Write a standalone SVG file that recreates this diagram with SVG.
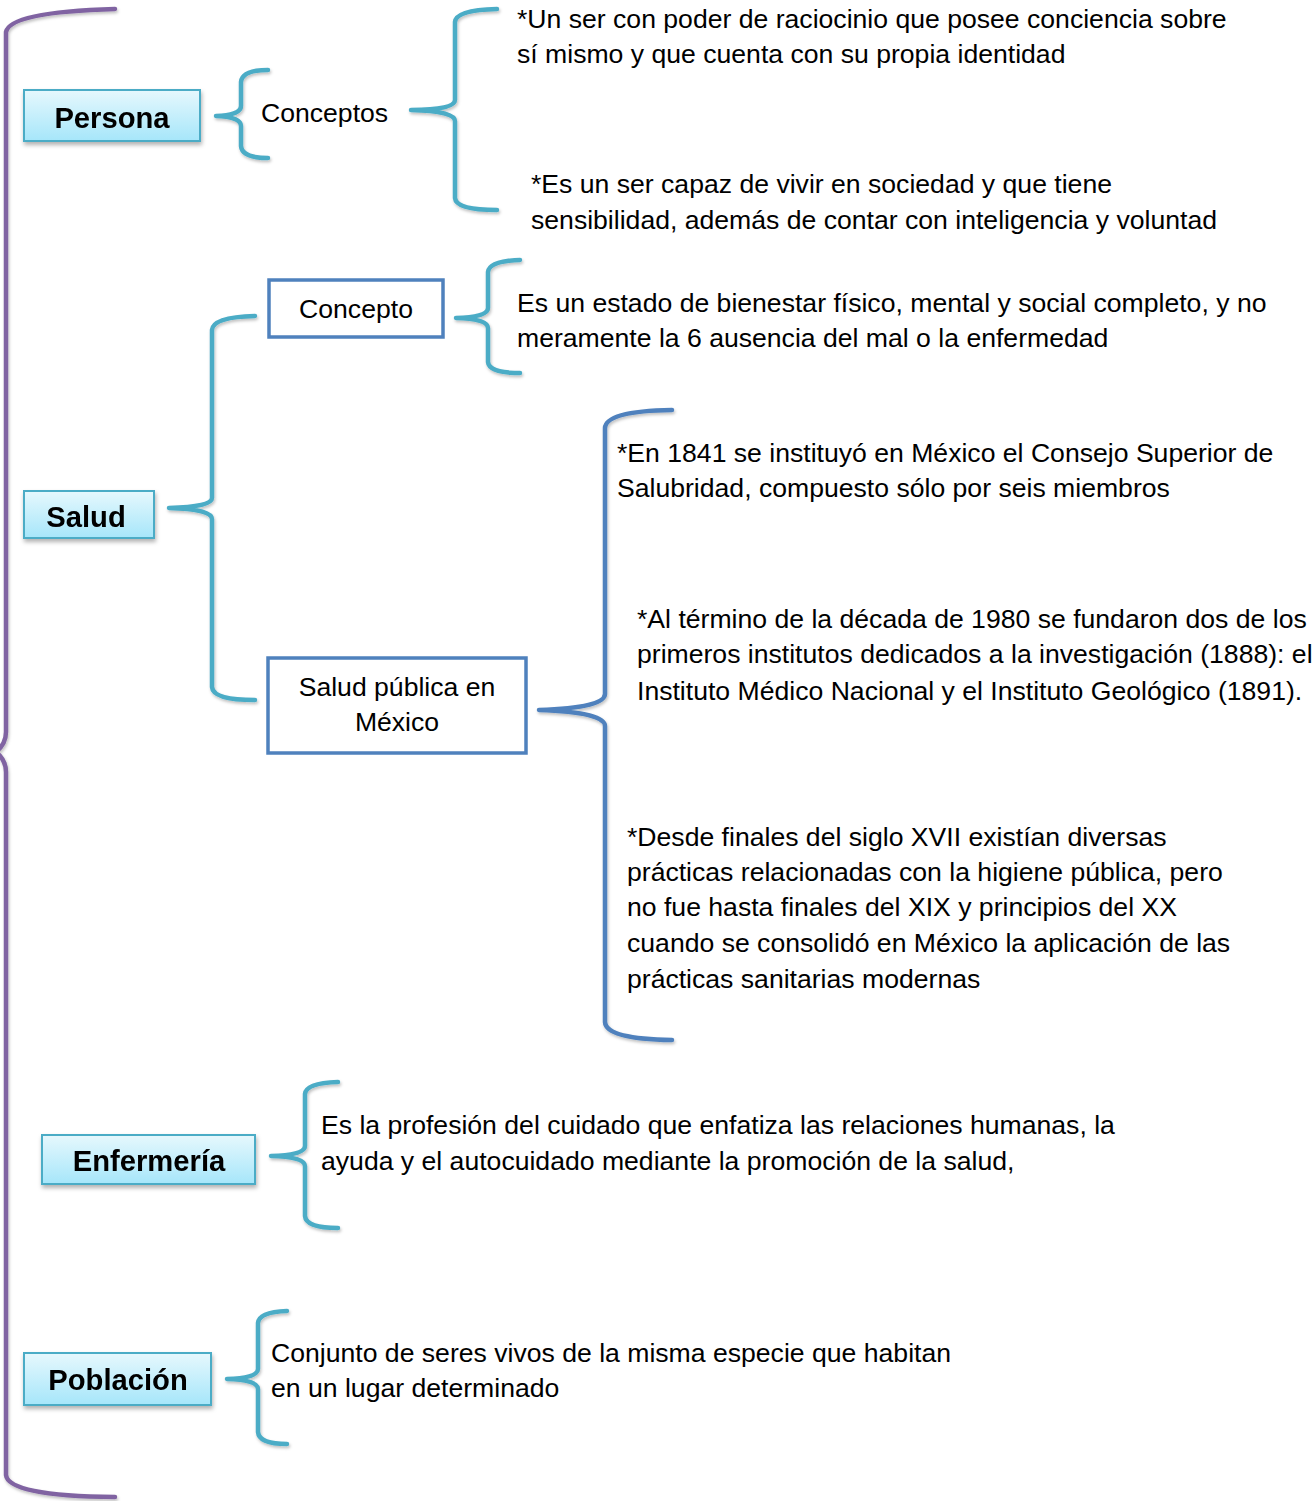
<svg xmlns="http://www.w3.org/2000/svg" width="1315" height="1501" viewBox="0 0 1315 1501">
<defs>
<linearGradient id="boxg" x1="0" y1="0" x2="0" y2="1">
<stop offset="0" stop-color="#E6F8FD"/>
<stop offset="1" stop-color="#A6E6FA"/>
</linearGradient>
<filter id="sh" x="-10%" y="-10%" width="130%" height="140%">
<feDropShadow dx="1" dy="3" stdDeviation="2" flood-color="#000" flood-opacity="0.3"/>
</filter>
<filter id="shl" x="-10%" y="-10%" width="130%" height="130%">
<feDropShadow dx="1" dy="2" stdDeviation="1.5" flood-color="#000" flood-opacity="0.25"/>
</filter>
</defs>
<style>
.t{font-family:"Liberation Sans",Arial,sans-serif;font-size:26.6px;fill:#000}
.b{font-family:"Liberation Sans",Arial,sans-serif;font-size:29.2px;font-weight:bold;fill:#000;text-anchor:middle}
.c{text-anchor:middle}
.box{fill:url(#boxg);stroke:#4BACC6;stroke-width:2}
.bbox{fill:#fff;stroke:#4F81BD;stroke-width:3.5}
.teal{fill:none;stroke:#4BACC6;stroke-width:4.5;stroke-linecap:round;stroke-linejoin:round}
.blue{fill:none;stroke:#4F81BD;stroke-width:4.5;stroke-linecap:round;stroke-linejoin:round}
.purple{fill:none;stroke:#8064A2;stroke-width:4.5;stroke-linecap:round;stroke-linejoin:round}
</style>
<rect width="1315" height="1501" fill="#fff"/>
<g id="connectors" filter="url(#shl)">
<path class="purple" d="M115,9 Q10,12 6,32 L6,732 Q6,744 -4,752 Q6,760 6,772 L6,1475 Q8,1496 115,1497"/>
<path class="teal" d="M268,70 Q242,70 241,82 L241,106 Q241,115 216,116 Q241,117 241,126 L241,146 Q242,158 268,158"/>
<path class="teal" d="M497,9 Q456,10 455,22 L455,100 Q455,110 411,110 Q455,111 455,121 L455,198 Q456,210 497,210"/>
<path class="teal" d="M255,316 Q213,317 212,330 L212,498 Q212,507 169,508 Q212,509 212,519 L212,687 Q213,700 255,700"/>
<path class="teal" d="M520,260 Q489,261 488,272 L488,308 Q488,317 456,318 Q488,319 488,328 L488,362 Q489,373 520,373"/>
<path class="blue" d="M672,410 Q606,411 605,428 L605,694 Q605,708 539,710 Q605,712 605,726 L605,1022 Q606,1039 672,1040"/>
<path class="teal" d="M338,1082 Q306,1083 305,1094 L305,1146 Q305,1155 271,1156 Q305,1157 305,1166 L305,1216 Q306,1228 338,1228"/>
<path class="teal" d="M287,1311 Q259,1312 258,1323 L258,1369 Q258,1378 227,1379 Q258,1380 258,1389 L258,1432 Q259,1444 287,1444"/>
</g>
<g id="persona" filter="url(#sh)"><rect class="box" x="24" y="90" width="176" height="51"/><text class="b" x="112" y="128">Persona</text></g>
<g id="conceptos"><text class="t" x="261" y="122">Conceptos</text></g>
<g id="persona-def1"><text class="t" x="517" y="28">*Un ser con poder de raciocinio que posee conciencia sobre</text><text class="t" x="517" y="63">sí mismo y que cuenta con su propia identidad</text></g>
<g id="persona-def2"><text class="t" x="531" y="193">*Es un ser capaz de vivir en sociedad y que tiene</text><text class="t" x="531" y="229">sensibilidad, además de contar con inteligencia y voluntad</text></g>
<g id="salud" filter="url(#sh)"><rect class="box" x="24" y="491" width="130" height="47"/><text class="b" x="86" y="527">Salud</text></g>
<g id="concepto"><rect class="bbox" x="269" y="280" width="174" height="57"/><text class="t c" x="356" y="318">Concepto</text></g>
<g id="concepto-def"><text class="t" x="517" y="312">Es un estado de bienestar físico, mental y social completo, y no</text><text class="t" x="517" y="347">meramente la 6 ausencia del mal o la enfermedad</text></g>
<g id="salud-publica"><rect class="bbox" x="268" y="658" width="258" height="95"/><text class="t c" x="397" y="696">Salud pública en</text><text class="t c" x="397" y="731">México</text></g>
<g id="sp1"><text class="t" x="617" y="462">*En 1841 se instituyó en México el Consejo Superior de</text><text class="t" x="617" y="497">Salubridad, compuesto sólo por seis miembros</text></g>
<g id="sp2"><text class="t" x="637" y="628">*Al término de la década de 1980 se fundaron dos de los</text><text class="t" x="637" y="663">primeros institutos dedicados a la investigación (1888): el</text><text class="t" x="637" y="700">Instituto Médico Nacional y el Instituto Geológico (1891).</text></g>
<g id="sp3"><text class="t" x="627" y="846">*Desde finales del siglo XVII existían diversas</text><text class="t" x="627" y="881">prácticas relacionadas con la higiene pública, pero</text><text class="t" x="627" y="916">no fue hasta finales del XIX y principios del XX</text><text class="t" x="627" y="952">cuando se consolidó en México la aplicación de las</text><text class="t" x="627" y="988">prácticas sanitarias modernas</text></g>
<g id="enfermeria" filter="url(#sh)"><rect class="box" x="42" y="1135" width="213" height="49"/><text class="b" x="149" y="1171">Enfermería</text></g>
<g id="enfermeria-def"><text class="t" x="321" y="1134">Es la profesión del cuidado que enfatiza las relaciones humanas, la</text><text class="t" x="321" y="1170">ayuda y el autocuidado mediante la promoción de la salud,</text></g>
<g id="poblacion" filter="url(#sh)"><rect class="box" x="24" y="1353" width="187" height="52"/><text class="b" x="118" y="1390">Población</text></g>
<g id="poblacion-def"><text class="t" x="271" y="1362">Conjunto de seres vivos de la misma especie que habitan</text><text class="t" x="271" y="1397">en un lugar determinado</text></g>
</svg>
